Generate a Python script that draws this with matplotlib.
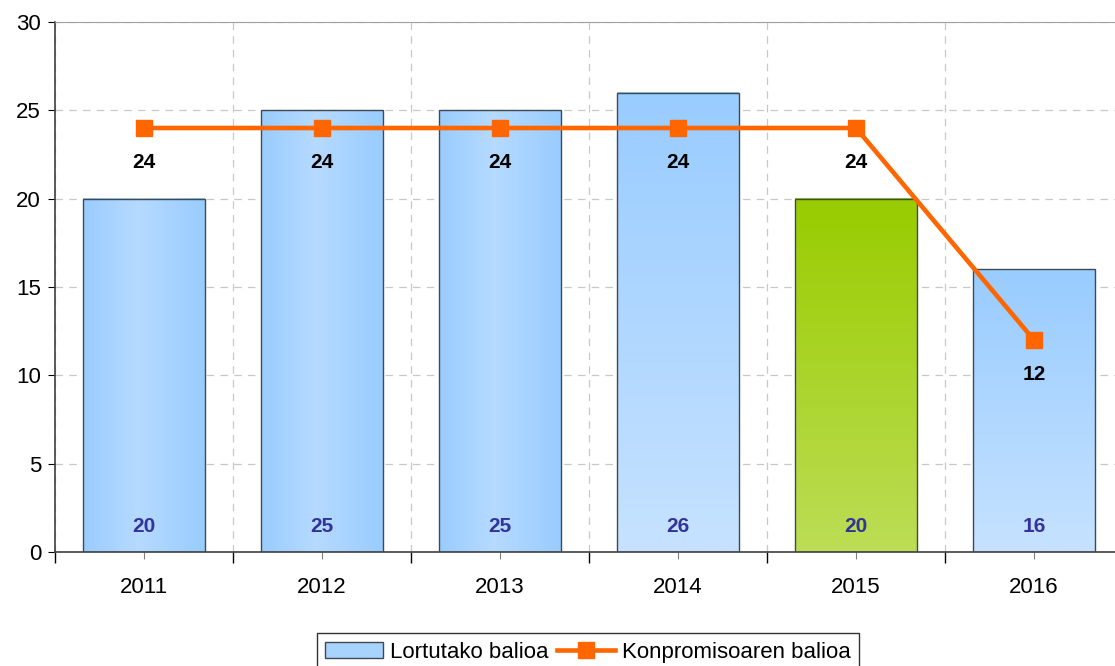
import numpy as np
import matplotlib.pyplot as plt
from matplotlib.colors import LinearSegmentedColormap
from matplotlib.patches import Patch
from matplotlib.lines import Line2D

plt.rcParams['font.family'] = ['Liberation Sans', 'DejaVu Sans']

years = ['2011', '2012', '2013', '2014', '2015', '2016']
lortutako = [20, 25, 25, 26, 20, 16]
konpromiso = [24, 24, 24, 24, 24, 12]
# gradient style for each bar: 'h' horizontal blue, 'v' vertical blue, 'g' vertical green
styles = ['h', 'h', 'h', 'v', 'g', 'v']

blue_h = LinearSegmentedColormap.from_list('bh', [(0, '#99CCFF'), (0.45, '#B6DAFF'), (1, '#99CCFF')])
blue_v = LinearSegmentedColormap.from_list('bv', ['#C6E2FF', '#99CCFF'])
green_v = LinearSegmentedColormap.from_list('gv', ['#BCDD55', '#99CC00'])

fig = plt.figure(figsize=(11.15, 6.66), dpi=100)
ax = fig.add_axes([55/1115, 1 - 552/666, (1123 - 55)/1115, (552 - 22)/666])

x = np.arange(len(years))
w = 0.68
bars = ax.bar(x, lortutako, width=w, facecolor='none', edgecolor='#404850', linewidth=1.0, zorder=3)

for b, st in zip(bars, styles):
    x0, y0 = b.get_x(), b.get_y()
    x1, y1 = x0 + b.get_width(), y0 + b.get_height()
    if st == 'h':
        grad = np.linspace(0, 1, 200).reshape(1, -1)
        cmap = blue_h
    else:
        grad = np.linspace(0, 1, 200).reshape(-1, 1)
        cmap = blue_v if st == 'v' else green_v
    ax.imshow(grad, cmap=cmap, extent=[x0, x1, y0, y1], origin='lower',
              aspect='auto', zorder=2, interpolation='bilinear')

for xi, v in zip(x, lortutako):
    ax.text(xi, 1.45, str(v), ha='center', va='center', color='#333399',
            fontsize=15, fontweight='bold', zorder=5)

ax.plot(x, konpromiso, color='#FF6600', linewidth=3.3, marker='s', markersize=12,
        zorder=4, label='Konpromisoaren balioa')
for xi, v in zip(x, konpromiso):
    ax.text(xi, v - 1.95, str(v), ha='center', va='center', color='black',
            fontsize=15, fontweight='bold', zorder=5)

ax.set_xlim(-0.5, 5.5)
ax.set_ylim(0, 30)
ax.set_yticks(range(0, 31, 5))
ax.set_xticks(x)
ax.set_xticklabels(years)
ax.set_xticks(np.arange(-0.5, 5.6, 1), minor=True)
ax.tick_params(axis='x', which='major', length=5, color='#808080', labelsize=16, pad=13)
ax.tick_params(axis='x', which='minor', length=8, color='black', width=1)
ax.tick_params(axis='y', length=5, color='black', labelsize=16, pad=5)

ax.grid(True, which='minor', axis='x', linestyle=(0, (6, 5)), color='#C8C8C8', linewidth=0.9)
ax.grid(True, which='major', axis='y', linestyle=(0, (6, 5)), color='#C8C8C8', linewidth=0.9)
ax.set_axisbelow(True)

for s in ['left', 'bottom']:
    ax.spines[s].set_color('#404040')
    ax.spines[s].set_linewidth(1.2)
ax.spines['top'].set_color('#A0A0A0')
ax.spines['right'].set_visible(False)

handles = [Patch(facecolor='#A9D3FF', edgecolor='#404850', label='Lortutako balioa'),
           Line2D([], [], color='#FF6600', linewidth=3.3, marker='s', markersize=12,
                  label='Konpromisoaren balioa')]
fig.legend(handles=handles, loc='lower center', bbox_to_anchor=(588/1115, -0.025), ncol=2,
           frameon=True, fancybox=False, edgecolor='black', fontsize=16,
           handlelength=2.6, handletextpad=0.3, columnspacing=0.4, borderpad=0.4)

fig.savefig('out.png', dpi=100)
